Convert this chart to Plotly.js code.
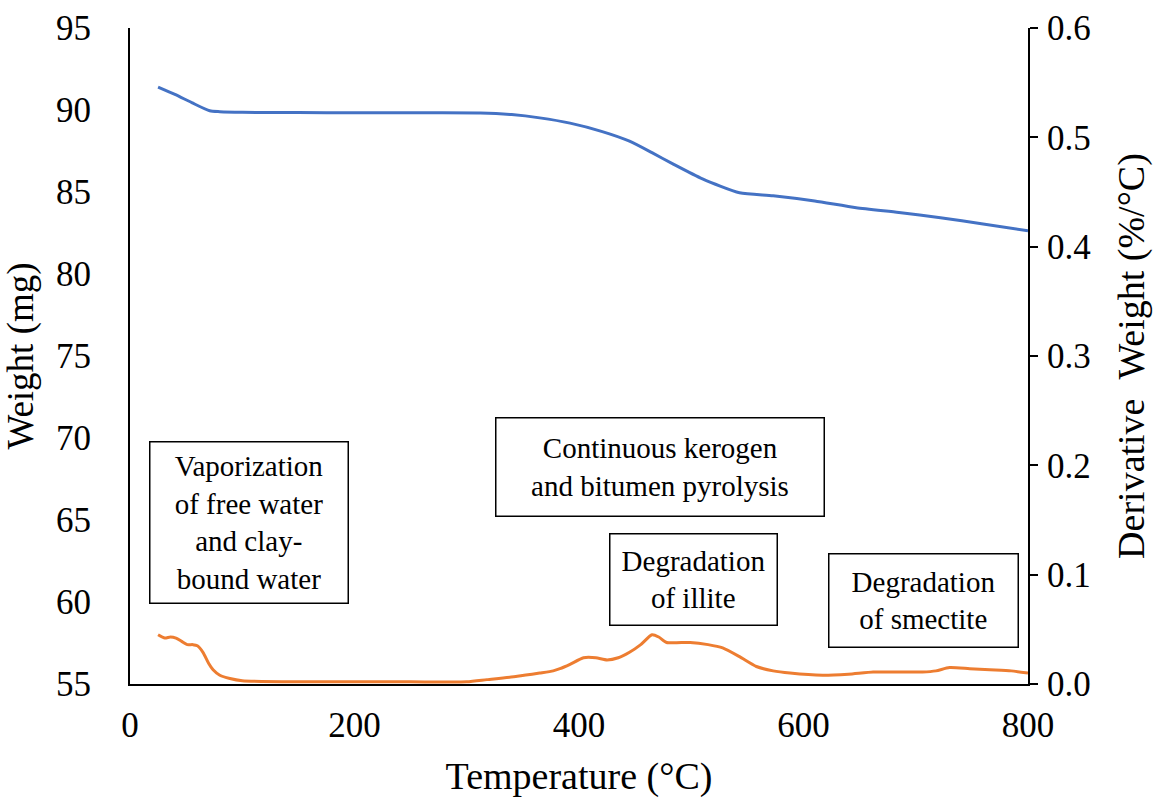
<!DOCTYPE html>
<html>
<head>
<meta charset="utf-8">
<script src="https://cdn.plot.ly/plotly-3.0.1.min.js"></script>
<style>
  html, body { margin: 0; padding: 0; background: #fff; }
  #chart { width: 1164px; height: 798px; }
</style>
</head>
<body>
<div id="chart"></div>
<script>
// Thermogravimetric curve: sample weight vs temperature
const weightTemp = [25, 40, 55, 71, 80, 100, 150, 200, 250, 312, 340, 365, 392, 420, 445, 465, 484, 510, 543, 573, 610, 647, 685, 722, 760, 800];
const weightMg   = [91.4, 90.95, 90.45, 89.95, 89.9, 89.86, 89.84, 89.83, 89.83, 89.82, 89.72, 89.52, 89.2, 88.7, 88.1, 87.4, 86.7, 85.8, 84.95, 84.77, 84.45, 84.04, 83.75, 83.43, 83.05, 82.64];

// Derivative weight (DTG) curve
const dtgTemp = [25, 31, 36, 41, 46, 51, 56, 60, 65, 70, 74, 80, 89, 100, 150, 200, 250, 300, 318, 345, 365, 377, 383, 392, 404, 415, 425, 435, 445, 455, 465, 471, 478, 499, 515, 528, 543, 558, 573, 588, 617, 640, 662, 685, 706, 718, 730, 748, 766, 785, 800];
const dtgValue = [0.045, 0.042, 0.043, 0.042, 0.039, 0.036, 0.036, 0.035, 0.029, 0.019, 0.013, 0.008, 0.005, 0.003, 0.002, 0.002, 0.002, 0.002, 0.004, 0.007, 0.010, 0.012, 0.014, 0.018, 0.024, 0.024, 0.022, 0.024, 0.029, 0.036, 0.045, 0.043, 0.038, 0.038, 0.036, 0.033, 0.025, 0.016, 0.012, 0.010, 0.008, 0.009, 0.011, 0.011, 0.011, 0.012, 0.015, 0.014, 0.013, 0.012, 0.010];

// Event labels: text, temperature and weight at the label centre
const noteText = [
  "Vaporization<br>of free water<br>and clay-<br>bound water",
  "Continuous kerogen<br>and bitumen pyrolysis",
  "Degradation<br>of illite",
  "Degradation<br>of smectite"
];
const noteTemp   = [105.6, 472.6, 502.4, 707.3];
const noteWeight = [64.86, 68.24, 61.39, 60.11];
const noteBoxW   = [197, 327, 166, 188];
const noteBoxH   = [160, 97, 90, 92];

const serif = "Liberation Serif, Times New Roman, serif";

const traces = [
  {
    x: weightTemp, y: weightMg, type: "scatter", mode: "lines",
    line: { color: "#4472C4", width: 3, shape: "spline", smoothing: 0.6 },
    yaxis: "y", hoverinfo: "skip"
  },
  {
    x: dtgTemp, y: dtgValue, type: "scatter", mode: "lines",
    line: { color: "#ED7D31", width: 3, shape: "spline", smoothing: 0.6 },
    yaxis: "y2", hoverinfo: "skip"
  }
];

const annotations = noteText.map((t, i) => ({
  x: noteTemp[i], y: noteWeight[i], xref: "x", yref: "y",
  text: t, showarrow: false,
  font: { family: serif, size: 29, color: "#000" },
  align: "center", valign: "middle",
  width: noteBoxW[i], height: noteBoxH[i],
  bordercolor: "#000", borderwidth: 1.5, borderpad: 0,
  bgcolor: "#fff"
}));

const layout = {
  width: 1164, height: 798,
  margin: { l: 130, r: 136, t: 28, b: 114 },
  paper_bgcolor: "#fff", plot_bgcolor: "#fff",
  showlegend: false,
  font: { family: serif, color: "#000" },
  xaxis: {
    range: [0, 800], tickvals: [0, 200, 400, 600, 800],
    showline: true, linecolor: "#000", linewidth: 2,
    ticks: "", showgrid: false, zeroline: false,
    tickfont: { family: serif, size: 35 },
    ticklabelstandoff: 9,
    title: { text: "Temperature (°C)", font: { family: serif, size: 38 }, standoff: 22 }
  },
  yaxis: {
    range: [55, 95], tickvals: [55, 60, 65, 70, 75, 80, 85, 90, 95],
    showline: true, linecolor: "#000", linewidth: 2,
    ticks: "", showgrid: false, zeroline: false,
    tickfont: { family: serif, size: 35 },
    ticklabelstandoff: 30,
    title: { text: "Weight (mg)", font: { family: serif, size: 37 }, standoff: 12 }
  },
  yaxis2: {
    range: [0, 0.6], tickvals: [0, 0.1, 0.2, 0.3, 0.4, 0.5, 0.6],
    tickformat: ".1f",
    overlaying: "y", side: "right",
    showline: true, linecolor: "#000", linewidth: 2,
    ticks: "outside", ticklen: 8, tickwidth: 2, tickcolor: "#000",
    showgrid: false, zeroline: false,
    tickfont: { family: serif, size: 35 },
    ticklabelstandoff: 2,
    title: { text: "Derivative&nbsp;&nbsp;Weight (%/°C)", font: { family: serif, size: 38 }, standoff: 28 }
  },
  annotations: annotations
};

Plotly.newPlot("chart", traces, layout, { displayModeBar: false, staticPlot: true });
</script>
</body>
</html>
